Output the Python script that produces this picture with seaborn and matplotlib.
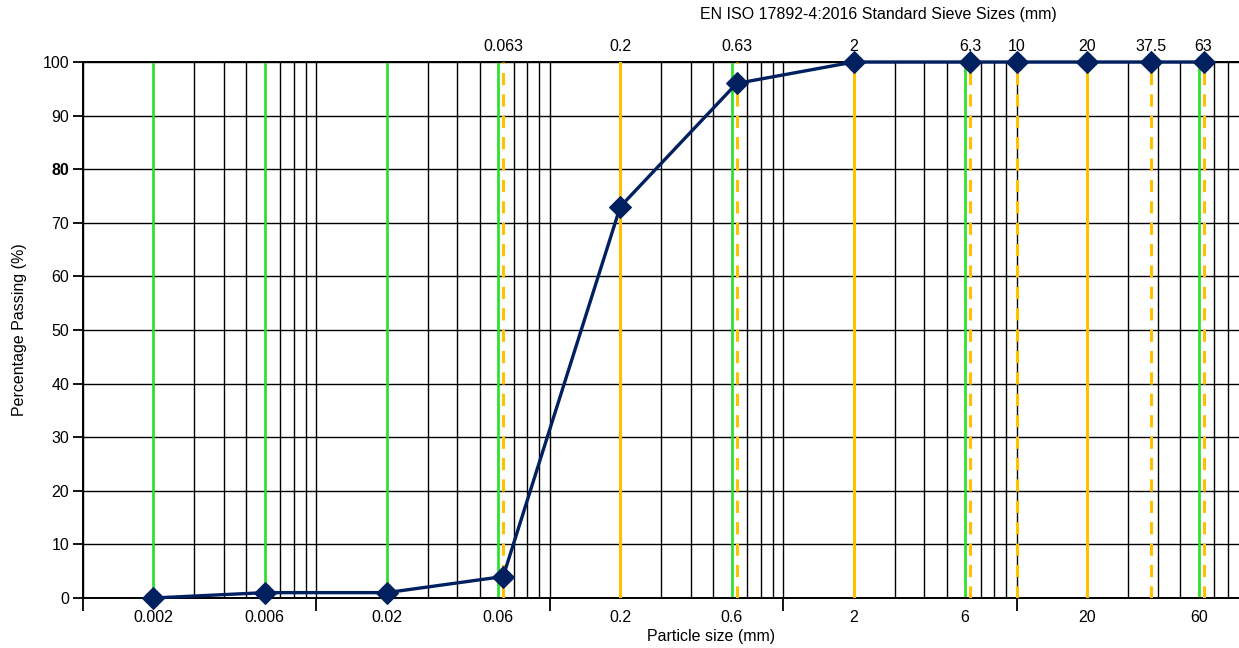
import numpy as np
import pandas as pd
import matplotlib
matplotlib.use("Agg")
import matplotlib.pyplot as plt
import seaborn as sns
from matplotlib.ticker import FixedLocator, FixedFormatter, NullFormatter

# Grading results: sieve / hydrometer size (mm) and cumulative percentage passing
particle_size = [0.002, 0.006, 0.02, 0.063, 0.2, 0.63, 2, 6.3, 10, 20, 37.5, 63]
percent_passing = [0, 1, 1, 4, 73, 96, 100, 100, 100, 100, 100, 100]

# Soil classification boundaries (clay / silt / sand / gravel fractions)
class_bounds = [0.002, 0.006, 0.02, 0.06, 0.2, 0.6, 2, 6, 20, 60]
class_labels = ["0.002", "0.006", "0.02", "0.06", "0.2", "0.6", "2", "6", "20", "60"]

# EN ISO 17892-4:2016 standard sieve sizes
sieve_sizes = [0.063, 0.2, 0.63, 2, 6.3, 10, 20, 37.5, 63]
sieve_labels = ["0.063", "0.2", "0.63", "2", "6.3", "10", "20", "37.5", "63"]
sieve_dashed = [True, False, True, False, True, True, False, True, True]

y_ticks = list(range(0, 101, 10))

NAVY = "#002060"
GREEN = "#22E822"
GOLD = "#FFC000"

sns.set_style("white")
plt.rcParams["font.family"] = ["Liberation Sans", "DejaVu Sans"]

FS = 11.5

fig = plt.figure(figsize=(12.39, 6.48), dpi=100)
W, H = 1239, 648
left, right, top, bottom = 83, 1239, 62, 598
ax = fig.add_axes([left / W, 1 - bottom / H, (right - left) / W, (bottom - top) / H])
ax.set_xscale("log")
ax.set_xlim(1e-3, 89.3)
ax.set_ylim(0, 100)

# Log-cycle grid: full-height lines at 1..9 x each decade
decades = [1e-3, 1e-2, 1e-1, 1, 10]
grid_x = [m * d for d in decades for m in range(1, 10)]
ax.vlines(grid_x, 0, 100, colors="black", lw=1.0, zorder=1)
ax.set_yticks(y_ticks)
ax.grid(axis="y", color="black", lw=1.0, zorder=1)
ax.set_axisbelow(True)

# Classification boundaries in green
ax.vlines(class_bounds, 0, 100, colors=GREEN, lw=1.8, zorder=2)

# Sieve sizes in gold, dashed where they sit beside a boundary line
for s, dashed in zip(sieve_sizes, sieve_dashed):
    ax.axvline(s, color=GOLD, lw=2.2, zorder=3,
               linestyle=(0, (4, 3)) if dashed else "-")

df = pd.DataFrame({"size": particle_size, "passing": percent_passing})
sns.lineplot(data=df, x="size", y="passing", ax=ax, color=NAVY, lw=2.4,
             marker="D", markersize=11, markeredgecolor=NAVY,
             markerfacecolor=NAVY, zorder=5, clip_on=False)
ax.set_xlim(1e-3, 89.3)
ax.set_ylim(0, 100)

# Bottom axis: decade ticks without labels, boundary labels without ticks
ax.xaxis.set_major_locator(FixedLocator(decades))
ax.xaxis.set_major_formatter(NullFormatter())
ax.xaxis.set_minor_locator(FixedLocator(class_bounds))
ax.xaxis.set_minor_formatter(FixedFormatter(class_labels))
ax.tick_params(axis="x", which="major", bottom=True, length=9, width=1.3,
               color="black", direction="out")
ax.tick_params(axis="x", which="minor", bottom=True, length=0, pad=9,
               labelsize=FS, labelcolor="black")
ax.tick_params(axis="y", left=True, length=7, width=1.3, color="black",
               labelsize=FS, labelcolor="black", pad=3)
for lbl in ax.get_yticklabels():
    if lbl.get_text() == "80":
        lbl.set_fontweight("bold")
ax.set_xlabel("")
ax.set_ylabel("")

for side in ["left", "bottom", "top"]:
    ax.spines[side].set_visible(True)
    ax.spines[side].set_color("black")
    ax.spines[side].set_linewidth(1.4)
ax.spines["right"].set_visible(False)

# Top axis: standard sieve sizes
sec = ax.secondary_xaxis("top")
sec.set_xscale("log")
sec.xaxis.set_major_locator(FixedLocator(sieve_sizes))
sec.xaxis.set_major_formatter(FixedFormatter(sieve_labels))
sec.xaxis.set_minor_locator(FixedLocator([]))
sec.tick_params(axis="x", length=0, pad=6, labelsize=FS, labelcolor="black")
sec.spines["top"].set_visible(False)

fig.text(878 / W, 1 - 14 / H, "EN ISO 17892-4:2016 Standard Sieve Sizes (mm)",
         ha="center", va="center", fontsize=FS, color="black")
fig.text(711 / W, 1 - 636 / H, "Particle size (mm)",
         ha="center", va="center", fontsize=FS, color="black")
fig.text(20 / W, 1 - 330 / H, "Percentage Passing (%)", rotation=90,
         ha="center", va="center", fontsize=FS, color="black")

fig.savefig("out.png", dpi=100)
